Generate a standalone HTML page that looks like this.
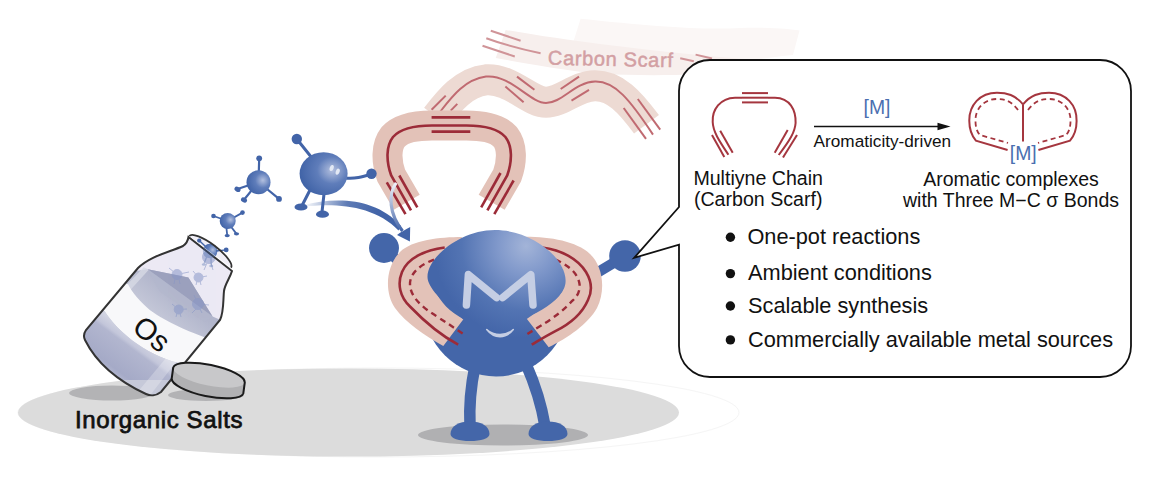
<!DOCTYPE html>
<html><head><meta charset="utf-8"><style>
html,body{margin:0;padding:0;background:#fff;width:1153px;height:482px;overflow:hidden}
svg{display:block}
text{font-family:"Liberation Sans",sans-serif}
</style></head><body>
<svg width="1153" height="482" viewBox="0 0 1153 482">
<defs>
  <radialGradient id="headG" gradientUnits="userSpaceOnUse" cx="526" cy="246" r="92">
    <stop offset="0" stop-color="#a3b4d8"/>
    <stop offset="0.3" stop-color="#8199cb"/>
    <stop offset="0.7" stop-color="#5374b3"/>
    <stop offset="1" stop-color="#4466a9"/>
  </radialGradient>
  <radialGradient id="ballG" cx="0.68" cy="0.42" r="0.7">
    <stop offset="0" stop-color="#b3c0df"/>
    <stop offset="0.45" stop-color="#5f7dba"/>
    <stop offset="1" stop-color="#3f62a6"/>
  </radialGradient>
  <linearGradient id="arrowG" gradientUnits="userSpaceOnUse" x1="303" y1="206" x2="405" y2="232">
    <stop offset="0" stop-color="#4264a8" stop-opacity="0"/>
    <stop offset="0.4" stop-color="#4264a8" stop-opacity="0.85"/>
    <stop offset="0.7" stop-color="#4264a8"/>
    <stop offset="1" stop-color="#4264a8"/>
  </linearGradient>
  <linearGradient id="arrow2G" gradientUnits="userSpaceOnUse" x1="396" y1="183" x2="402" y2="231">
    <stop offset="0" stop-color="#f0f3fa"/>
    <stop offset="1" stop-color="#4264a8"/>
  </linearGradient>
  <clipPath id="bottleClip">
    <path id="bottlePath" d="M188.5 237 L232 271 C230 278 225 284 224 291 C223 300 224 312 220 320 L161 392 C156 396 150 396 146 394 C120 382 97 364 85 340 C83 336 84 333 86 330 L138 268 C150 256 170 252 183 246 C186 244 188 240 188.5 237 Z"/>
  </clipPath>
  <linearGradient id="fillG" gradientUnits="userSpaceOnUse" x1="85" y1="300" x2="180" y2="380">
    <stop offset="0" stop-color="#b9bdd3"/>
    <stop offset="0.5" stop-color="#a2a8c6"/>
    <stop offset="1" stop-color="#b5bad2"/>
  </linearGradient>
  <linearGradient id="lowG" gradientUnits="userSpaceOnUse" x1="140" y1="340" x2="112" y2="378">
    <stop offset="0" stop-color="#d2d4e2"/>
    <stop offset="0.18" stop-color="#c3c6da"/>
    <stop offset="0.25" stop-color="#b2b6cf"/>
    <stop offset="0.8" stop-color="#a5aac7"/>
    <stop offset="1" stop-color="#b9bdd4"/>
  </linearGradient>
  <linearGradient id="contG" gradientUnits="userSpaceOnUse" x1="170" y1="290" x2="150" y2="315">
    <stop offset="0" stop-color="#b2b6cc"/>
    <stop offset="1" stop-color="#c6c9d9"/>
  </linearGradient>
</defs>

<!-- floor -->
<ellipse cx="378.5" cy="412.5" rx="360.5" ry="44.5" fill="none" stroke="#f5f5f5" stroke-width="1"/>
<ellipse cx="348.5" cy="412.5" rx="330.5" ry="44" fill="#dcdcdc"/>
<ellipse cx="503" cy="435" rx="85" ry="10.5" fill="#b0b0b2"/>
<ellipse cx="112" cy="393" rx="43" ry="7.5" fill="#b3b3b5"/>
<ellipse cx="206" cy="395" rx="38" ry="6" fill="#b3b3b5"/>

<!-- carbon scarf faint strip -->
<path d="M580.6 18.7 C650 26 700 30 740 28 C770 27 790 29 799.5 30.6 L793 55 C740 60 700 72 660 74 L573 43 Z" fill="#fbf7f6"/>
<path d="M505.7 29.9 C540 36 570 40 600 44 C650 50 700 56 760 60 L700 74 C660 76 630 75 600 74 C560 70 520 62 495.7 58.1 Z" fill="#f7efed"/>
<g stroke="#d09498" stroke-width="2" fill="none">
  <line x1="490.8" y1="30.8" x2="520.6" y2="40.7"/>
  <path d="M486.3 38.2 C505 45 520 49 540.6 53.2"/>
  <line x1="482.5" y1="45.7" x2="514.8" y2="56.5"/>
  <line x1="680.2" y1="58.3" x2="693.8" y2="61.2"/>
  <line x1="695.6" y1="54.6" x2="712" y2="58.5"/>
</g>
<text x="547.8" y="64.6" font-size="20" fill="#d39fa3" stroke="#d39fa3" stroke-width="0.5" letter-spacing="0.65" transform="rotate(1.2 547.8 64.6)">Carbon Scarf</text>

<!-- wavy scarf -->
<path d="M436.4 117.3 C449 101 464 82 486 79.8 C510 78 530 102.3 546 102.3 C562 102.3 576 86 595 85.7 C615 85.5 630 102 646.5 124.3" fill="none" stroke="#eddad3" stroke-width="31"/>
<g fill="none" stroke="#c06a71" stroke-width="2">
  <path d="M436 117 C449 101 462 80 486 76.6 C510 74 530 103 546 103 C562 103 575 82 595 81.6 C615 81 630 100 653 134.6"/>
  <line x1="431.6" y1="109.7" x2="445.7" y2="95.6"/>
  <line x1="450.7" y1="110.6" x2="457.3" y2="103.9"/>
  <line x1="517" y1="76.6" x2="534.4" y2="89.8"/>
  <line x1="505.4" y1="86.5" x2="523.6" y2="102.3"/>
  <line x1="560.7" y1="89" x2="579" y2="76.6"/>
  <line x1="571.5" y1="100.6" x2="589" y2="89.9"/>
  <line x1="623.7" y1="108" x2="646" y2="138.8"/>
  <line x1="637.8" y1="99" x2="660.2" y2="129.7"/>
</g>

<!-- U scarf -->
<path d="M406.75 202.3 L391.2 175.5 C386 161 386 146 393 137 C400 129 414 125.5 432 125.5 L466.4 125.5 C484.4 125.5 498.4 129 505.4 137 C512.4 146 512.4 161 507.2 175.5 L491.65 202.3" fill="none" stroke="#e3c2b8" stroke-width="30"/>
<g fill="none" stroke="#9c2b38" stroke-width="2.6">
  <path d="M411 210.4 L391.2 175.5 C386 161 386 146 393 137 C400 129 414 125.5 432 125.5 L466.4 125.5 C484.4 125.5 498.4 129 505.4 137 C512.4 146 512.4 161 507.2 175.5 L487.4 210.4"/>
  <line x1="431.6" y1="117.4" x2="470.3" y2="117.4"/>
  <line x1="431.6" y1="131.6" x2="470.3" y2="131.6"/>
  <line x1="386.8" y1="182.4" x2="405.5" y2="214.1"/>
  <line x1="399.3" y1="175.5" x2="417.3" y2="207.3"/>
  <line x1="500.5" y1="173" x2="481.2" y2="207.3"/>
  <line x1="513.6" y1="180.5" x2="494.3" y2="214.1"/>
</g>

<!-- molecules -->
<g fill="#4264a8" stroke="#4264a8" stroke-linecap="round">
  <!-- small -->
  <g stroke-width="1.8">
    <line x1="227.7" y1="221" x2="213.5" y2="216"/>
    <line x1="227.7" y1="221" x2="242.5" y2="212.6"/>
    <line x1="226" y1="224" x2="227.2" y2="235"/>
    <line x1="229" y1="224" x2="236.3" y2="233.6"/>
  </g>
  <circle cx="213.5" cy="216" r="2.3" stroke="none"/>
  <circle cx="242.5" cy="212.6" r="2.3" stroke="none"/>
  <ellipse cx="227.2" cy="235.6" rx="2.6" ry="1.6" stroke="none"/>
  <ellipse cx="236.5" cy="233.8" rx="2.6" ry="1.6" stroke="none"/>
  <circle cx="227.7" cy="221" r="8" fill="url(#ballG)" stroke="none"/>
  <!-- medium -->
  <g stroke-width="2.2">
    <line x1="258.5" y1="182" x2="259.2" y2="158.3"/>
    <line x1="258.5" y1="182" x2="237.5" y2="189"/>
    <line x1="258.5" y1="182" x2="244" y2="199.8"/>
    <line x1="258.5" y1="182" x2="279" y2="198.9"/>
  </g>
  <circle cx="259.2" cy="158.3" r="2.9" stroke="none"/>
  <circle cx="279" cy="198.9" r="2.9" stroke="none"/>
  <ellipse cx="237.5" cy="189.3" rx="3.2" ry="2.4" stroke="none" transform="rotate(30 237.5 189.3)"/>
  <ellipse cx="244" cy="200" rx="3.2" ry="2.4" stroke="none" transform="rotate(30 244 200)"/>
  <circle cx="258.5" cy="182.2" r="12" fill="url(#ballG)" stroke="none"/>
  <!-- big -->
  <g stroke-width="3" fill="none">
    <line x1="312" y1="158" x2="296.8" y2="139"/>
    <path d="M345 178 C355 179 362 177 371.5 174"/>
    <line x1="310" y1="190" x2="301.8" y2="206"/>
    <line x1="324" y1="194" x2="322" y2="212"/>
  </g>
  <circle cx="296.8" cy="139" r="5.2" stroke="none"/>
  <circle cx="371.5" cy="173.7" r="5.2" stroke="none"/>
  <ellipse cx="301" cy="207" rx="6.5" ry="3.6" stroke="none"/>
  <ellipse cx="322.5" cy="214.2" rx="6.5" ry="3.6" stroke="none"/>
  <ellipse cx="323.6" cy="173.7" rx="24" ry="21.5" fill="url(#ballG)" stroke="none"/>
  <ellipse cx="331.7" cy="168" rx="1.9" ry="3.2" fill="#e3e9f4" stroke="none" transform="rotate(20 331.7 168)"/>
  <ellipse cx="337.7" cy="171.7" rx="1.9" ry="3.2" fill="#e3e9f4" stroke="none" transform="rotate(20 337.7 171.7)"/>
</g>
<!-- arrows -->
<path d="M303 205.2 C335 197 375 197 401 226 L398.5 230.5 C374 205 335 203 303 206.8 Z" fill="url(#arrowG)"/>
<path d="M396.2 182.9 C388 194 389 214 402.5 231" fill="none" stroke="url(#arrow2G)" stroke-width="3.2"/>
<path d="M409.9 241.6 L397 234.9 C401 232 405 230 410.2 227 Z" fill="#4264a8"/>

<!-- ============ BOTTLE ============ -->
<g clip-path="url(#bottleClip)">
  <rect x="60" y="220" width="200" height="190" fill="#ece9f4"/>
  <!-- contents -->
  <path d="M60 300 L136 271 L147.8 269.3 L188.4 277.4 L212.6 316.6 L230 324 L200 420 L40 420 Z" fill="url(#contG)"/>
  <path d="M143.7 267.3 L149 269.5 L124 297 L118 294 Z" fill="#d7d9e5" opacity="0.8"/>
  <path d="M147.8 269.3 L188.4 277.4 L212.6 316.6 Z" fill="#9ca1bd"/>
  <path d="M147.8 269.3 L212.6 316.6 L205 322 L160 292 Z" fill="#b3b7cd" opacity="0.6"/>
  <!-- band -->
  <path d="M128 284.3 C132 292 140 302 149.8 309.9 C158 316 170 323 189 331.2 C196 334 203 336.5 208 338.5 L240 330 L240 390 L186 364 C175 363 158 357 142.6 347.4 C130 340 114 326 104.4 311 L70 300 L90 270 Z" fill="#f8f8fa"/>
  <path d="M104.4 311 C114 326 130 340 142.6 347.4 C158 357 175 363 186 364 L240 390 L186 364 C175 363 158 357 142.6 347.4 Z" fill="none"/>
  <!-- lower shading -->
  <path d="M60 320 L104.4 311 C114 326 130 340 142.6 347.4 C158 357 175 363 186 364 L200 380 L60 380 Z" fill="url(#lowG)"/>
  <path d="M136 394 L166 358 L176 362 L148 398 Z" fill="#ffffff" opacity="0.25"/>
  <!-- faint molecules inside -->
  <g fill="#8796c6" stroke="#8796c6" stroke-width="1" opacity="0.55">
    <circle cx="177" cy="274.5" r="5"/><line x1="177" y1="274.5" x2="169" y2="268"/><line x1="177" y1="274.5" x2="189" y2="272"/><line x1="175" y1="279" x2="174" y2="284"/><line x1="179" y1="279" x2="180" y2="284"/>
    <circle cx="198.5" cy="277.5" r="4.5"/><line x1="198.5" y1="277.5" x2="193" y2="271"/><line x1="198.5" y1="277.5" x2="207" y2="276"/><line x1="197" y1="281" x2="196" y2="285"/><line x1="200" y1="281" x2="201" y2="285"/>
    <circle cx="198" cy="304" r="5.5"/><line x1="198" y1="304" x2="194" y2="295"/><line x1="198" y1="304" x2="209" y2="305"/><line x1="196" y1="309" x2="192" y2="313"/><line x1="200" y1="309" x2="202" y2="313"/>
    <circle cx="178.7" cy="309.5" r="4.5"/><line x1="178.7" y1="309.5" x2="172" y2="304"/><line x1="178.7" y1="309.5" x2="187" y2="309"/><line x1="177" y1="313" x2="176" y2="317"/><line x1="180" y1="313" x2="181" y2="317"/>
    <circle cx="209" cy="257" r="6.5"/><line x1="207" y1="263" x2="204" y2="270"/><line x1="211" y1="263" x2="213" y2="270"/>
  </g>
  <text x="0" y="0" font-size="29.5" fill="#111" transform="translate(145.4 341.8) rotate(39)" text-anchor="middle">Os</text>
</g>
<use href="#bottlePath" fill="none" stroke="#333" stroke-width="2"/>
<!-- mouth -->
<clipPath id="mouthFront"><path d="M170 200 L250 200 L250 290 L231 267.6 L189.3 236 L170 236 Z"/></clipPath>
<g>
  <path d="M189.3 236 A26.15 7.5 37.2 0 1 231 267.6 Z" fill="#f1eff7"/>
  <g fill="#4264a8" stroke="#4264a8" stroke-width="1.2" opacity="0.35">
    <circle cx="210.1" cy="251" r="7.3" stroke="none"/>
    <line x1="207" y1="256" x2="203.9" y2="264"/><line x1="211" y1="257" x2="211.2" y2="265.5"/>
    <ellipse cx="203.9" cy="264.5" rx="2" ry="1.2" stroke="none"/><ellipse cx="211.2" cy="266" rx="2" ry="1.2" stroke="none"/>
  </g>
  <g clip-path="url(#mouthFront)">
    <circle cx="210.1" cy="251" r="7.3" fill="url(#ballG)"/>
  </g>
  <g fill="#4264a8" stroke="#4264a8" stroke-width="1.4">
    <line x1="205" y1="246" x2="199.2" y2="240.6"/><line x1="216" y1="251" x2="226.2" y2="249.9"/>
    <circle cx="199.2" cy="240.6" r="2.1" stroke="none"/><circle cx="226.2" cy="249.9" r="2.4" stroke="none"/>
  </g>
  <path d="M189.3 236 A26.15 7.5 37.2 0 1 231 267.6" fill="none" stroke="#333" stroke-width="1.8"/>
</g>
<!-- lid -->
<path d="M173.2 367.5 A36.6 10.5 11.8 0 1 244.8 382.5 L243.3 393.5 A36.6 10.5 11.8 0 1 171.7 378.5 Z" fill="#b1b1b3"/>
<ellipse cx="209" cy="375" rx="36.6" ry="10.5" transform="rotate(11.8 209 375)" fill="#c8c8ca"/>
<path d="M173.2 367.5 A36.6 10.5 11.8 0 1 244.8 382.5 L243.3 393.5 A36.6 10.5 11.8 0 1 171.7 378.5 Z" fill="none" stroke="#1a1a1a" stroke-width="2"/>
<text x="75" y="428" font-size="24" fill="#111" stroke="#111" stroke-width="0.75" letter-spacing="0.62">Inorganic Salts</text>

<!-- ============ CHARACTER ============ -->
<g fill="#4466a9">
  <!-- arms -->
  <path d="M384 248 L428 288" stroke="#4466a9" stroke-width="10" stroke-linecap="round"/>
  <path d="M625 256 L565 292" stroke="#4466a9" stroke-width="10.5" stroke-linecap="round"/>
  <circle cx="384" cy="248" r="15"/>
  <circle cx="625" cy="256" r="15.8"/>
  <!-- legs -->
  <path d="M475 366 C471 385 469 405 470 426" stroke="#4466a9" stroke-width="11.5" fill="none"/>
  <path d="M526 364 C534 382 541 402 545 426" stroke="#4466a9" stroke-width="11.5" fill="none"/>
  <path d="M450.5 434 C450.5 426 459 421.5 470 421.5 C481 421.5 489.5 426 489.5 434 C489.5 438.5 481 441 470 441 C459 441 450.5 438.5 450.5 434 Z"/>
  <path d="M528.5 434 C528.5 426 537 421.5 548 421.5 C559 421.5 567.5 426 567.5 434 C567.5 438.5 559 441 548 441 C537 441 528.5 438.5 528.5 434 Z"/>
  <!-- body -->
  <circle cx="496" cy="304" r="72.5" fill="url(#headG)"/>
</g>
<!-- neck scarf -->
<path d="M462 237 C440 237 412 240 400 252 C386 266 384 292 395 308 C405 322 425 336 443.3 346 L463.6 319 C450 312 440 302 435 290 C430 275 440 255 460 250 Z" fill="#e3c2b8"/>
<path d="M518 237 C545 236 575 240 590 254 C603 266 606 290 597 308 C588 324 568 338 548.7 347.2 L525.8 317.6 C540 312 556 302 562 292 C570 275 560 255 540 250 Z" fill="#e3c2b8"/>
<g fill="none" stroke="#9c2b38">
  <path d="M444.7 247.5 C425 250 408 258 402 272 C397 284 400 297 410 306.5 C422 319 438 334 458.2 344.6" stroke-width="2.6"/>
  <path d="M434 259.6 C420 265 410 273 410 284 C410 297 423 308 436.2 316 C447 323 456 329 465 335" stroke-width="2.4" stroke-dasharray="6 4.5"/>
  <path d="M542 247.5 C562 250 578 259 586 272 C592 282 592 292 588 300 C582 314 570 324 554.9 331.4 C546 336 538 341 531.7 344.7" stroke-width="2.6"/>
  <path d="M555.4 259.6 C568 265 578 273 579.5 284 C580.5 292 576 298 571.5 301.5 C565 309 556 316 545 323.1 C540 326 534 330 525.8 335" stroke-width="2.4" stroke-dasharray="6 4.5"/>
</g>
<!-- head -->
<path d="M427.5 277 C427 258 460 230 495 230 C532 230 566 258 565.6 281 C565.6 287 563 292 556 298.5 L526 319.6 C515 326 505 327 496 327 C487 327 474 325 463.6 319.8 C452 310 443 302 437 295 C431 288 427.5 282 427.5 277 Z" fill="url(#headG)"/>
<g fill="none" stroke="#c5cee4" stroke-width="7.5" stroke-linecap="round" stroke-linejoin="round">
  <path d="M466.4 305 L468.4 274.6 L496.6 297.6"/>
  <path d="M502.6 297.6 L530.8 274.6 L533 305"/>
</g>
<path d="M486.7 329.5 C494 336 506 336 513.3 329.5 C506 339 494 339 486.7 329.5 Z" fill="#c5cee4" stroke="#c5cee4" stroke-width="1.5" stroke-linejoin="round"/>

<!-- ============ CALLOUT BOX ============ -->
<path d="M710 60 L1100 60 A31 31 0 0 1 1131 91 L1131 346 A31 31 0 0 1 1100 377 L710 377 A31 31 0 0 1 679 346 L679 244.7 L634.2 257.8 L679 207 L679 91 A31 31 0 0 1 710 60 Z" fill="#ffffff" stroke="#111" stroke-width="1.8"/>

<!-- multiyne -->
<g fill="none" stroke="#a5363f" stroke-width="2">
  <path d="M742 97.7 L735 97.7 C720 98 712 110 712.7 122 C713 132 720 142 728.4 154.7"/>
  <line x1="742" y1="93.1" x2="768" y2="93.1"/>
  <line x1="742" y1="97.7" x2="768" y2="97.7"/>
  <line x1="742" y1="102.4" x2="768" y2="102.4"/>
  <line x1="712" y1="135" x2="724.3" y2="156.9"/>
  <line x1="720.2" y1="130.8" x2="732.7" y2="152.8"/>
  <path d="M768 97.7 L775 97.7 C790 98 796 110 795.6 123 C795 132 790 140 778.7 155"/>
  <line x1="787.7" y1="130" x2="774.7" y2="152.8"/>
  <line x1="797" y1="135" x2="783" y2="157.5"/>
</g>
<text x="863.5" y="114" font-size="19.4" fill="#4a6fb0">[M]</text>
<line x1="814" y1="126.5" x2="940" y2="126.5" stroke="#111" stroke-width="1.6"/>
<path d="M950.5 126.5 L937.5 122.8 L937.5 130.2 Z" fill="#111"/>
<text x="813.6" y="147" font-size="17.2" fill="#111">Aromaticity-driven</text>

<!-- aromatic -->
<g fill="none" stroke="#a5363f" stroke-width="2">
  <line x1="1023" y1="104.3" x2="1023" y2="141.6"/>
  <path d="M1023 104.3 C1015 95 1007 92.7 997 92.7 C980 92.7 969 105 969.3 121 C969.3 128 972 136 975.9 140.7 L1007.6 150"/>
  <path d="M1023 104.3 C1031 95 1039 92.7 1049 92.7 C1066 92.7 1077 105 1076.6 121 C1076.6 128 1074 136 1070 140.7 L1038.4 150"/>
  <path d="M1018 110 C1012 102 1006 99 997 99 C984 99 975 109 975.5 121 C975.5 127 977 132 980 135 L1008 143" stroke-dasharray="5 3.5" stroke-width="1.8"/>
  <path d="M1028 110 C1034 102 1040 99 1049 99 C1062 99 1071 109 1070.5 121 C1070.5 127 1069 132 1066 135 L1038 143" stroke-dasharray="5 3.5" stroke-width="1.8"/>
</g>
<text x="1009.8" y="159.8" font-size="19.4" fill="#4a6fb0">[M]</text>

<text x="758.2" y="184.6" font-size="19.6" fill="#111" text-anchor="middle">Multiyne Chain</text>
<text x="758.2" y="206.2" font-size="19.6" fill="#111" text-anchor="middle">(Carbon Scarf)</text>
<text x="1011" y="185.6" font-size="19.5" fill="#111" text-anchor="middle">Aromatic complexes</text>
<text x="1011" y="207.1" font-size="19.5" fill="#111" text-anchor="middle">with Three M−C σ Bonds</text>

<g fill="#111">
  <circle cx="730.4" cy="237.2" r="4.7"/>
  <circle cx="730.4" cy="273.6" r="4.7"/>
  <circle cx="730.4" cy="306" r="4.7"/>
  <circle cx="730.4" cy="339.9" r="4.7"/>
</g>
<g font-size="21.75" fill="#111">
  <text x="747.4" y="243.9">One-pot reactions</text>
  <text x="748" y="280.3">Ambient conditions</text>
  <text x="748" y="312.7">Scalable synthesis</text>
  <text x="748" y="347">Commercially available metal sources</text>
</g>

</svg>
</body></html>
